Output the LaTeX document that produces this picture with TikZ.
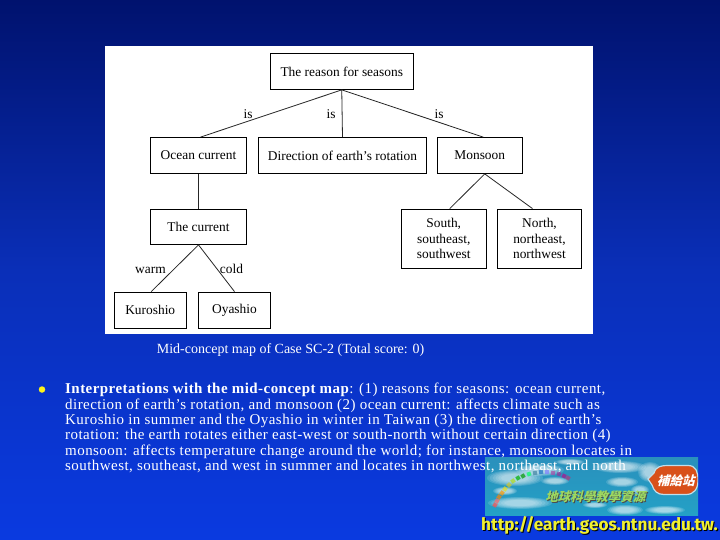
\documentclass[tikz,border=0pt]{standalone}
\usepackage{fontspec}
\setmainfont{Liberation Serif}
\newfontfamily\urlfont{Fira Sans}
\newfontfamily\cjkfont{Noto Sans CJK TC}
\usetikzlibrary{calc}
\definecolor{bgtop}{HTML}{00126E}
\definecolor{bgmid}{HTML}{0A2FB8}
\definecolor{bgbot}{HTML}{0A3AE0}
\definecolor{sky}{HTML}{2A90BC}
\definecolor{btn}{HTML}{D8501A}
\definecolor{urlyellow}{HTML}{F0F030}
\tikzset{
  x=1pt,y=-1pt,
  box/.style={draw=black,line width=0.8pt,fill=white,inner sep=0pt,align=center,font=\fontsize{13.4}{15.4}\selectfont},
  link/.style={draw=black!85,line width=0.8pt},
  lab/.style={inner sep=0pt,font=\fontsize{13.4}{15}\selectfont},
  logocjk/.style={inner sep=0pt,xslant=0.25,font=\cjkfont\bfseries\fontsize{12.5}{13}\selectfont},
}
\newcommand{\boxat}[6]{\node[box,minimum width=#3 pt-#1 pt,minimum height=#4 pt-#2 pt] (#5) at ({(#1+#3)/2},{(#2+#4)/2}) {#6};}
\begin{document}
\begin{tikzpicture}
\useasboundingbox (0,0) rectangle (720,540);
\shade[top color=bgtop,bottom color=bgbot,middle color=bgmid] (0,0) rectangle (720,540);
\fill[white] (105,46) rectangle (593,334);
\boxat{270}{53.5}{413.5}{89.5}{reason}{The reason for seasons}
\boxat{150.5}{137.5}{246.5}{173.5}{ocean}{Ocean current}
\boxat{258.5}{137.5}{426.5}{173.5}{direction}{Direction of earth’s rotation}
\boxat{437.5}{137.5}{522}{173.5}{monsoon}{Monsoon}
\boxat{150.5}{209}{246.5}{244.5}{current}{The current}
\boxat{114}{292}{186.5}{328.5}{kuroshio}{Kuroshio}
\boxat{198.5}{292}{270.5}{328.5}{oyashio}{Oyashio}
\boxat{401.5}{209}{486}{268.5}{south}{South,\\southeast,\\southwest}
\boxat{497.5}{209}{581.5}{268.5}{north}{North,\\northeast,\\northwest}
\draw[link] (reason.south) -- ([xshift=2]ocean.north);
\draw[link] (reason.south) -- (direction.north);
\draw[link] (reason.south) -- ([xshift=3.5]monsoon.north);
\draw[link] (ocean.south) -- (current.north);
\draw[link] (current.south) -- ([xshift=1]kuroshio.north);
\draw[link] (current.south) -- (oyashio.north);
\draw[link] ([xshift=5]monsoon.south) -- ([xshift=6]south.north);
\draw[link] ([xshift=5]monsoon.south) -- ([xshift=-7]north.north);
\node[lab] (is1) at (248,114.5) {is};
\node[lab] (is2) at (331,114.5) {is};
\node[lab] (is3) at (439,114.5) {is};
\node[lab] (warm) at (150.5,270) {warm};
\node[lab] (cold) at (231.5,268.5) {cold};
\node[inner sep=0pt,text=white,font=\fontsize{14}{15}\selectfont] (cap) at (290.5,350.5) {Mid-concept map of Case SC-2 (Total score: 0)};
\node[circle,fill=yellow!90!white,inner sep=0pt,minimum size=6.5pt] (bullet) at (42,389.5) {};
% logo
\begin{scope}
\clip (485,457) rectangle (698,515);
\shade[top color=sky,bottom color=sky!85!cyan] (485,457) rectangle (698,515);
\foreach \cx/\cy/\rx/\ry in {515/478/28/8, 540/470/24/6, 505/491/12/4, 555/481/14/4, 620/467/26/6, 650/472/12/10, 622/482/16/5, 520/503/32/6, 625/510/18/5, 665/510/20/4, 640/490/9/5, 570/462/14/3, 595/505/12/3}
  \foreach \k in {1,0.9,0.8,0.7,0.6,0.5}
    \fill[white,opacity=0.14] (\cx,\cy) ellipse [x radius=\k*\rx, y radius=\k*\ry];
\end{scope}
\foreach \tx/\ty/\tc/\ta in {495/505/red!70!white/60,497/501/red!60!white/60,499/497/orange/55,502/493/orange!80!yellow/50,505/489/yellow!90!black/50,509/485/yellow!80!black/45,513/481/yellow!70!green/40,518/478/green!70!black/30,523/476/green!60!black/30,529/474/green!60!cyan/20,535/473/cyan!60!black/10,541/472/cyan!50!blue/10,547/472/blue!50!white/0,553/473/violet!70!white/-10,559/474/violet!80!white/-20,564/476/magenta!70!blue/-25,568/478/magenta!70!black/-30}
  \fill[\tc,opacity=0.7,rotate around={\ta:(\tx,\ty)}] (\tx-2,\ty-2) rectangle (\tx+2,\ty+2);
\node[logocjk,text=black!70] (logoshadow) at (597.5,497.5) {地球科學教學資源};
\node[logocjk,text=yellow!45!green!70!white] (logotext) at (596.5,496.5) {地球科學教學資源};
\begin{scope}
\clip (485,457) rectangle (698,515);
\path[fill=btn,draw=white!70!sky,line width=1.2pt] (648,479) -- (654,473) .. controls (656,466) and (662,465.5) .. (668,465.5) -- (688,465.5) .. controls (696,465.5) and (698,472) .. (698,480) .. controls (698,489) and (694,494.5) .. (686,494.5) -- (664,494.5) .. controls (657,494.5) and (654,491) .. (652,485) -- cycle;
\end{scope}
\node[logocjk,text=white] (logobtn) at (677,480.5) {補給站};
% text over logo
\node[anchor=north west,inner sep=0pt,text=white,align=left,font=\fontsize{15}{15.4}\addfontfeature{LetterSpace=3}\selectfont] (para) at (65,383) {\textbf{Interpretations with the mid-concept map}: (1) reasons for seasons: ocean current,\\direction of earth’s rotation, and monsoon (2) ocean current: affects climate such as\\Kuroshio in summer and the Oyashio in winter in Taiwan (3) the direction of earth’s\\rotation: the earth rotates either east-west or south-north without certain direction (4)\\monsoon: affects temperature change around the world; for instance, monsoon locates in\\southwest, southeast, and west in summer and locates in northwest, northeast, and north};
\node[anchor=west,inner sep=0pt,text=black,font=\urlfont\bfseries\fontsize{17.2}{18}\selectfont] (urlshadow) at (482,526.5) {http://earth.geos.ntnu.edu.tw.};
\node[anchor=west,inner sep=0pt,text=urlyellow,font=\urlfont\bfseries\fontsize{17.2}{18}\selectfont] (url) at (481,525.5) {http://earth.geos.ntnu.edu.tw.};
\end{tikzpicture}
\end{document}
